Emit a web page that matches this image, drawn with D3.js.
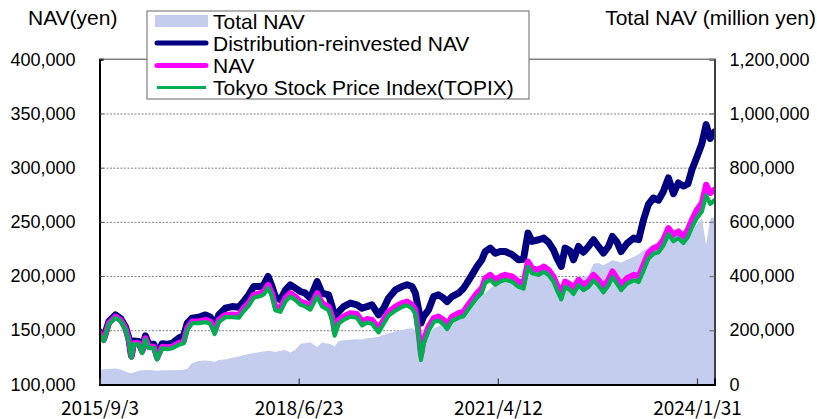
<!DOCTYPE html>
<html><head><meta charset="utf-8">
<script src="https://cdn.jsdelivr.net/npm/d3@7"></script>
<style>body{margin:0;background:#fff}svg{display:block}</style>
</head><body><svg id="c" width="817" height="419"></svg>
<script>
const dates = [
"2015-09-03","2015-09-25","2015-10-21","2015-11-24","2015-12-20","2016-01-15","2016-02-01","2016-02-14","2016-02-26","2016-03-23",
"2016-04-09","2016-04-26","2016-05-13","2016-06-08","2016-06-25","2016-07-21","2016-08-16","2016-09-11","2016-10-14","2016-11-09",
"2016-11-27","2016-12-22","2017-01-25","2017-03-01","2017-03-26","2017-04-17","2017-05-08","2017-06-11","2017-07-16","2017-08-19",
"2017-09-13","2017-10-09","2017-11-04","2017-12-08","2017-12-25","2018-01-17","2018-02-06","2018-02-23","2018-03-21","2018-04-16",
"2018-05-11","2018-06-06",
"2018-07-02","2018-07-27","2018-08-22","2018-09-26","2018-10-21","2018-11-24","2018-12-12","2018-12-25","2019-01-15","2019-02-09",
"2019-03-16","2019-04-19","2019-05-15","2019-06-09","2019-07-05","2019-08-08","2019-09-03","2019-09-28","2019-11-02","2019-12-06",
"2020-01-01","2020-01-27","2020-02-13","2020-03-01","2020-03-13","2020-03-26","2020-04-21","2020-05-17","2020-06-11","2020-07-07",
"2020-07-25","2020-08-19","2020-09-22","2020-10-18","2020-11-04","2020-11-30","2020-12-26","2021-01-20","2021-02-06","2021-03-04",
"2021-03-30","2021-04-24",
"2021-05-20","2021-06-23","2021-07-27","2021-08-22","2021-09-14","2021-10-05","2021-11-08","2021-12-04","2021-12-29","2022-01-23",
"2022-02-10","2022-03-04","2022-03-24","2022-04-19","2022-05-06","2022-06-01","2022-06-26","2022-07-22","2022-08-17","2022-09-11",
"2022-10-07","2022-11-02","2022-11-22","2022-12-15","2023-01-06","2023-02-05","2023-03-11","2023-04-06","2023-05-01","2023-05-26",
"2023-06-21","2023-07-17","2023-08-11","2023-09-06","2023-10-02","2023-10-27","2023-11-22","2023-12-15","2024-01-05","2024-01-31",
"2024-02-25","2024-03-18","2024-04-08","2024-04-30"];

// Total NAV (million yen) - right axis
const totalNAV = [
53000,56000,57000,59000,55000,48000,43000,42000,44000,50000,52000,53000,53000,52000,50000,52000,52000,52000,53000,54000,
58000,78000,86000,88000,86000,84000,90000,92000,98000,103000,108000,112000,116000,120000,121000,124000,122000,120000,124000,127000,
118000,128000,
150000,152000,156000,138000,155000,150000,146000,140000,160000,163000,165000,167000,166000,170000,172000,176000,183000,188000,
195000,201000,205000,207000,200000,130000,100000,150000,185000,207000,215000,226000,232000,245000,258000,269000,278000,295000,
312000,328000,337000,355000,370000,386000,
395000,410000,400000,350000,440000,430000,425000,420000,415000,400000,385000,360000,390000,385000,380000,400000,395000,405000,
445000,448000,440000,450000,458000,455000,450000,460000,470000,480000,495000,505000,515000,530000,535000,545000,540000,548000,
555000,565000,575000,590000,615000,515000,612000,618000];

// Distribution-reinvested NAV (yen)
const reinvestedNAV = [
148700,142500,158000,164100,161000,153000,142500,127000,140000,139500,131800,144800,137000,137000,127200,137500,137000,138000,142600,145000,
156500,161100,162000,164100,162000,153000,164100,170300,171800,171200,176400,182600,190300,190300,191900,199600,190300,181000,178000,187000,
191900,188800,
185700,184200,179600,194900,184200,182600,171800,162600,167200,171800,175000,173400,170300,171800,173400,164100,170300,179600,
187200,190300,191900,190300,184200,168800,156500,162600,168800,181000,182600,179600,176400,181000,184200,188800,193400,201100,
208800,215000,222600,225800,221000,222600,
222600,220000,215000,215500,239600,232000,233500,235000,231000,224200,216500,208800,225800,223000,215000,227300,222000,227300,
233500,227300,221200,227300,236500,231500,222600,230000,235000,233500,251900,266000,272000,270000,278000,290500,276000,286000,
283000,285000,298000,310000,322000,339700,327000,333000];

// NAV (yen)
const nav = [
147200,141000,156500,162600,159500,151800,141000,125600,138000,138000,130200,142600,134800,134800,124100,134800,134000,134800,138000,139500,
151800,158000,158000,159500,158000,148700,159500,164100,164500,164100,170300,175000,182600,184200,185700,191900,184200,171800,170300,179600,
184200,181000,
176400,175000,171800,184200,175000,171800,162600,148700,159500,162600,165700,164900,158000,160300,159500,151800,159500,167200,
171800,175000,176400,173400,168800,147200,127200,141000,153300,161100,162600,159500,154900,162600,165700,167200,171800,178000,
184200,188800,198000,201100,196500,199400,
201100,199600,194900,193400,213400,207300,205700,208800,205700,199600,191900,184200,194900,191900,188800,196500,191900,194900,
201100,196500,190300,196500,204200,198000,191900,198000,201100,199600,210400,221200,225800,227300,233500,244300,238100,241200,
236500,242700,251900,261200,267400,284300,276600,279700];

// Tokyo Stock Price Index (TOPIX), rebased (yen)
const topix = [
146500,140000,155500,161500,158500,150500,140000,124500,137000,137000,129000,141500,133500,133500,123000,133500,132500,133500,136500,138000,
150000,156500,156500,157500,156000,146500,157500,162000,162000,161500,167500,172500,180000,181500,183000,189000,181000,168500,167000,176500,
181000,178000,
173500,172000,169000,181000,172000,168500,159500,145000,156000,159500,162500,161500,154500,157000,156000,148000,156000,163500,
168000,171500,173000,170000,165000,143000,122500,137000,149500,157500,159000,155500,151000,158500,161500,163000,167500,174000,
180000,184500,193500,196500,192000,195000,
196500,195000,190000,188500,208500,202500,201000,204000,201000,195000,187000,178500,190000,187000,183500,191500,187000,190000,
196000,191500,185000,191500,199000,193000,187000,193000,196000,194500,205000,216000,220500,222000,228000,238500,232000,235000,
230500,236000,245000,253500,259500,274500,266500,270000];

const leftTicks = [100000,150000,200000,250000,300000,350000,400000];
const rightTicks = [0,200000,400000,600000,800000,1000000,1200000];
const xTickLabels = ["2015/9/3","2018/6/23","2021/4/12","2024/1/31"];
const legendLabels = ["Total NAV","Distribution-reinvested NAV","NAV","Tokyo Stock Price Index(TOPIX)"];

const C = {area:"#c5cdef", navy:"#000080", mag:"#ff00ff", green:"#00b050", grid:"#808080"};
const parse = d3.timeParse("%Y-%m-%d");
const xTickDates = ["2015-09-03","2018-06-23","2021-04-12","2024-01-31"].map(parse);
const D = dates.map(parse);
const L = 99.5, R = 714.5, T = 59.3, B = 384.4;
const x = d3.scaleTime().domain([D[0], D[D.length-1]]).range([L, R]);
const yL = d3.scaleLinear().domain([100000,400000]).range([B, T]);
const yR = d3.scaleLinear().domain([0,1200000]).range([B, T]);

const svg = d3.select("#c");
const font = "'Liberation Sans', Arial, sans-serif";

// gridlines
svg.append("g").attr("transform",`translate(${L},0)`)
  .call(d3.axisLeft(yL).tickValues(leftTicks.slice(1,-1)).tickSize(-(R-L)).tickFormat(""))
  .call(g=>g.select(".domain").remove())
  .call(g=>g.selectAll("line").attr("stroke",C.grid).attr("stroke-width",1).attr("stroke-dasharray","2,1.5"));

// area
const area = d3.area().x((d,i)=>x(D[i])).y0(yR(0)).y1(d=>yR(d));
svg.append("path").datum(totalNAV).attr("d",area).attr("fill",C.area);

// lines
const mkLine = (sc)=>d3.line().x((d,i)=>x(D[i])).y(d=>sc(d));
svg.append("clipPath").attr("id","clp").append("rect").attr("x",L).attr("y",T).attr("width",R-L).attr("height",B-T);
const lg = svg.append("g").attr("clip-path","url(#clp)");
[[reinvestedNAV,C.navy,7],[nav,C.mag,6],[topix,C.green,4.2]].forEach(([arr,col,w])=>{
  lg.append("path").datum(arr).attr("d",mkLine(yL)).attr("fill","none").attr("stroke",col)
    .attr("stroke-width",w).attr("stroke-linejoin","round").attr("stroke-linecap","round");
});

// frame: top border
svg.append("line").attr("x1",L).attr("x2",R).attr("y1",T).attr("y2",T).attr("stroke","#808080").attr("stroke-width",1.5);

// left axis
const axL = svg.append("g").attr("transform",`translate(${L},0)`)
  .call(d3.axisLeft(yL).tickValues(leftTicks).tickSize(-4).tickPadding(24).tickFormat(d3.format(",")));
axL.select(".domain").attr("stroke","#000").attr("stroke-width",2);
axL.selectAll("line").attr("stroke","#404040");
axL.selectAll("text").attr("font-family",font).attr("font-size","18px").attr("fill","#000");

// right axis
const axR = svg.append("g").attr("transform",`translate(${R},0)`)
  .call(d3.axisRight(yR).tickValues(rightTicks).tickSize(-5).tickPadding(15).tickFormat(d3.format(",")));
axR.select(".domain").attr("stroke","#404040").attr("stroke-width",2);
axR.selectAll("line").attr("stroke","#808080").attr("stroke-width",1.5);
axR.selectAll("text").attr("font-family",font).attr("font-size","18px").attr("fill","#000");

// bottom axis
const axB = svg.append("g").attr("transform",`translate(0,${B})`)
  .call(d3.axisBottom(x).tickValues(xTickDates).tickSize(-6).tickPadding(17).tickFormat((d,i)=>xTickLabels[i]));
axB.select(".domain").attr("stroke","#000").attr("stroke-width",2);
axB.selectAll("line").attr("stroke","#404040").attr("stroke-width",1.2);
axB.selectAll("text").attr("font-family","'Noto Sans CJK JP', sans-serif").attr("font-size","19px").attr("fill","#000");

// titles
svg.append("text").attr("x",28).attr("y",25).attr("font-family",font).attr("font-size","21px").text("NAV(yen)");
svg.append("text").attr("x",816).attr("y",25).attr("text-anchor","end").attr("font-family",font).attr("font-size","21px").text("Total NAV (million yen)");

// legend
const lgd = svg.append("g");
lgd.append("rect").attr("x",147).attr("y",11).attr("width",382).attr("height",88).attr("fill","#fff").attr("stroke","#808080").attr("stroke-width",1.2);
const rows = [21,43,65.5,87.5];
lgd.append("rect").attr("x",155).attr("y",15).attr("width",53).attr("height",12).attr("fill",C.area);
[[C.navy,5,"round"],[C.mag,5,"round"],[C.green,3,"butt"]].forEach(([col,w,cap],i)=>{
  lgd.append("line").attr("x1",157).attr("x2",206).attr("y1",rows[i+1]).attr("y2",rows[i+1])
    .attr("stroke",col).attr("stroke-width",w).attr("stroke-linecap",cap);
});
legendLabels.forEach((t,i)=>{
  lgd.append("text").attr("x",213).attr("y",rows[i]).attr("dy","0.36em").attr("font-family",font).attr("font-size","21px").text(t);
});
</script></body></html>
